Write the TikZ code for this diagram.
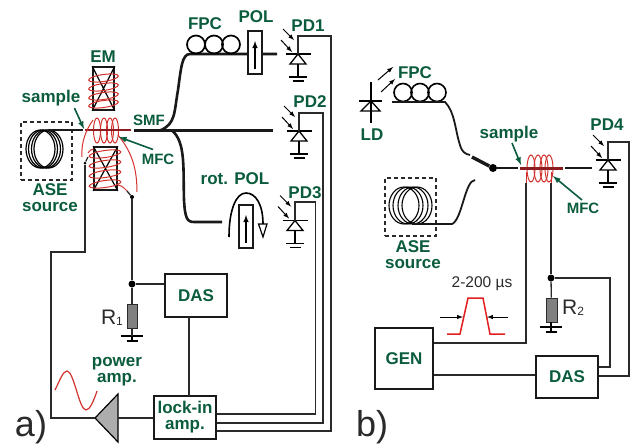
\documentclass[tikz,border=0pt]{standalone}
\usepackage{fontspec}
\setmainfont{Liberation Sans}
\usepackage{xcolor}
\usepackage{tikz}
\usetikzlibrary{positioning}

\definecolor{labgreen}{HTML}{0B5C3C}
\definecolor{coilred}{HTML}{D2322D}
\definecolor{pulsered}{HTML}{E41E20}
\definecolor{darksample}{HTML}{8C1C20}
\definecolor{inkgray}{HTML}{2A2A2A}

\tikzset{
  lab/.style={text=labgreen, inner sep=0pt, align=center, font=\bfseries\fontsize{17}{16}\selectfont},
  smalllab/.style={text=labgreen, inner sep=0pt, font=\bfseries\fontsize{15}{15}\selectfont},
  plain/.style={text=inkgray, inner sep=0pt, font=\fontsize{21}{21}\selectfont},
  partlab/.style={text=inkgray, inner sep=0pt, font=\fontsize{36}{36}\selectfont},
  wire/.style={draw=inkgray, line width=1.3pt},
  fibre/.style={draw=black!90, line width=2.6pt},
  thinfibre/.style={draw=black!90, line width=1.8pt},
  coil/.style={draw=coilred, line width=1pt},
  pointer/.style={draw=labgreen, line width=1.6pt, -latex},
  ray/.style={draw=black, line width=1pt, -latex},
  dot/.style={circle, fill=black, inner sep=0pt, minimum size=7pt},
  thickbox/.style={draw=black!90, line width=2.4pt, inner sep=0pt, fill=white, align=center},
  polbox/.style={draw=black!90, line width=1.4pt, fill=white, inner sep=0pt, minimum width=14pt, minimum height=43pt},
  resistor/.style={draw=inkgray, line width=0.8pt, fill=black!50, inner sep=0pt, minimum width=10pt, minimum height=24pt},
  dashbox/.style={draw=inkgray, line width=1.3pt, dash pattern=on 4pt off 3pt, inner sep=0pt},
  pd/.pic={
    \draw[line width=1.3pt] (-12.5,0) -- (12.5,0);
    \draw[line width=1.3pt] (0,0) -- (-8,10) -- (8,10) -- cycle;
    \draw[line width=1.3pt] (0,10) -- (0,23);
    \draw[line width=1.3pt] (-9,23) -- (9,23);
    \draw[line width=1.3pt] (-5.5,27) -- (5.5,27);
    \draw[ray] (-15,-25) -- (-4,-14);
    \draw[ray] (-17,-14) -- (-6,-2);
    \coordinate (-top) at (0,0);
  },
  gnd/.pic={
    \draw[line width=1.3pt] (-11,0) -- (11,0);
    \draw[line width=1.3pt] (-5.5,5) -- (5.5,5);
    \draw[line width=1.3pt] (0,-5) -- (0,5);
  },
}

\begin{document}
\begin{tikzpicture}[x=1pt,y=-1pt]
  \useasboundingbox (0,0) rectangle (639,445);

  % part a: fibre coil and source
  \node[dashbox, minimum width=51pt, minimum height=58pt] (asea) at (46.5,151) {};
  \foreach \x in {40.5,43,46,48.5}
    \draw[line width=1.2pt] (\x,149) ellipse (14.5 and 19);
  \coordinate (fibastart) at (48,130);
  \coordinate (fibaend) at (83,130);
  \draw[fibre, line width=1.8pt] (fibastart) -- (fibaend);
  \node[lab] (asealab) at (50,198) {ASE\\source};

  % part a: magnet
  \node[draw=black!90, line width=1.7pt, minimum width=21pt, minimum height=43pt, inner sep=0pt] (emtop) at (103.5,88.5) {};
  \draw[line width=1.2pt] (emtop.north west) -- (emtop.south east) (emtop.north east) -- (emtop.south west);
  \node[draw=black!90, line width=1.7pt, minimum width=23pt, minimum height=43pt, inner sep=0pt] (embot) at (105.5,168.5) {};
  \draw[line width=1.2pt] (embot.north west) -- (embot.south east) (embot.north east) -- (embot.south west);
  \foreach \y in {78,87,96,104}
    \draw[coil] (103.5,\y) ellipse [x radius=15, y radius=3.5, rotate=8];
  \foreach \y in {154,164,174,184}
    \draw[coil] (105,\y) ellipse [x radius=16, y radius=3.5, rotate=8];
  \node[lab] (em) at (103,57) {EM};

  % part a: sample in the modulation coil
  \coordinate (sama) at (85,130);
  \coordinate (samb) at (131,130);
  \foreach \x in {97,104,110,115}
    \draw[coil] (\x,130.5) ellipse (3.5 and 12.5);
  \draw[darksample, line width=2.6pt] (sama) -- (samb);
  \draw[coil] (93,120) .. controls (86,130) and (81,142) .. (82,157);
  \draw[coil] (118,135) .. controls (130,150) and (137,165) .. (137,192);
  \draw[coil] (88,153) .. controls (90,150) and (92,149) .. (94,149);
  \draw[coil] (118,185) .. controls (122,186) and (125,188) .. (127,191);
  \node[lab] (sampa) at (51,98) {sample};
  \coordinate (sampat) at (84,129);
  \draw[pointer] (sampa.south east) ++(-6,2) -- (sampat);
  \node[smalllab] (smf) at (149,120) {SMF};
  \node[smalllab] (mfca) at (158,159) {MFC};
  \coordinate (mfcat) at (119,137);
  \draw[pointer] (mfca.north) ++(-5,-4) -- (mfcat);

  % part a: three fibre arms
  \coordinate (splita) at (134,130.5);
  \coordinate (armtwo) at (273,130.5);
  \coordinate (armone) at (277,54);
  \coordinate (armthree) at (222,222);
  \draw[fibre] (splita) -- (armtwo);
  \draw[fibre] (160,130.5) .. controls (176,124) and (174,112) .. (178,90)
     .. controls (181,68) and (182,54) .. (190,54) -- (armone);
  \draw[fibre] (172,130.5) .. controls (186,142) and (183,170) .. (184,200)
     .. controls (185,218) and (187,222) .. (194,222) -- (armthree);
  \foreach \x in {196,214,231}
    \draw[line width=1.7pt] (\x,44.5) circle (9);
  \node[lab] (fpca) at (205,24) {FPC};
  \node[polbox] (pol) at (255,52.5) {};
  \draw[line width=1.4pt, -latex] (pol.south) ++(0,-6) -- (255,41);
  \node[lab] (pollab) at (256,17) {POL};
  \node[polbox] (rotpol) at (246,226.5) {};
  \draw[line width=1.4pt, -latex] (rotpol.south) ++(0,-6) -- (246,215);
  \draw[line width=1.6pt] (229,237) .. controls (229,210) and (236,193) .. (246,193)
     .. controls (256,193) and (263,205) .. (263,224);
  \draw[line width=1.2pt, fill=white] (258.5,224) -- (267,224) -- (263,237) -- cycle;
  \node[lab] (rotlab) at (235,179) {rot. POL};

  % part a: detectors
  \pic (pda) at (298,54) {pd};
  \pic (pdb) at (299,131) {pd};
  \pic (pdc) at (295,220.5) {pd};
  \node[lab] (pdalab) at (308,26) {PD1};
  \node[lab] (pdblab) at (310,102) {PD2};
  \node[lab] (pdclab) at (305,193) {PD3};

  % part a: electronics
  \node[thickbox, minimum width=62pt, minimum height=43pt, lab] (dasa) at (196,295.5) {DAS};
  \node[thickbox, minimum width=62pt, minimum height=43pt, lab] (lockin) at (185,417.5) {lock-in\\amp.};
  \coordinate (dasaout) at (189,317);
  \coordinate (lockintop) at (189,396);
  \draw[wire] (dasaout) -- (lockintop);

  \coordinate (ampin) at (118,418);
  \coordinate (amptip) at (95,418);
  \draw[line width=1.2pt, fill=black!32] (amptip) -- (118,394) -- (118,442) -- cycle;
  \draw[wire] (lockin.west |- ampin) -- (ampin);
  \node[lab] (powlab) at (117,372) {power\\amp.};
  \draw[coil, line width=1.2pt] (55,390) .. controls (60,380) and (63,371) .. (67,371)
     .. controls (74,371) and (79,410) .. (86,410) .. controls (90,410) and (94,400) .. (97,391);

  % part a: coil leads
  \node[dot, minimum size=3pt] (lefttap) at (85,163) {};
  \node[dot, minimum size=4pt] (righttap) at (132,197) {};
  \coordinate (stubl) at (88,157);
  \coordinate (stubr) at (127,191);
  \draw[wire] (lefttap) -- (stubl);
  \draw[wire] (righttap) -- (stubr);
  \coordinate (leftcorner) at (51,252);
  \draw[wire] (lefttap) |- (leftcorner) |- (amptip);
  \node[dot] (juncta) at (132,284) {};
  \draw[wire] (righttap) -- (juncta);
  \draw[wire] (juncta) -- (dasa.west |- juncta);
  \node[resistor] (ra) at (132,316) {};
  \draw[wire] (juncta) -- (ra);
  \pic (gnda) at (132,336) {gnd};
  \draw[wire] (ra.south) -- (132,336);
  \node[plain] (ralab) at (112,318) {R\raisebox{-1pt}{\fontsize{12}{12}\selectfont 1}};

  % part a: detector wires
  \coordinate (cornera) at (331,36);
  \coordinate (cornerb) at (323,113);
  \coordinate (cornerc) at (315.5,202);
  \draw[wire] (pda-top) |- (cornera) |- (lockin.east |- 0,431);
  \draw[wire] (pdb-top) |- (cornerb) |- (lockin.east |- 0,423);
  \draw[wire] (pdc-top) |- (cornerc) |- (lockin.east |- 0,414);

  \node[partlab] (parta) at (31,427) {a)};

  % part b: sources
  \draw[line width=1.3pt] (371,82) -- (371,123);
  \draw[line width=1.3pt] (359,101) -- (382,101);
  \draw[line width=1.3pt] (371,101) -- (361,111) -- (380,111) -- cycle;
  \coordinate (ldraya) at (378,80);
  \coordinate (ldrayb) at (381,92);
  \draw[ray] (ldraya) -- (393,67);
  \draw[ray] (ldrayb) -- (395,79);
  \node[lab] (ld) at (372,135) {LD};
  \foreach \x in {403,420,437}
    \draw[line width=1.6pt] (\x,92.5) circle (9);
  \node[lab] (fpcb) at (415,73) {FPC};

  \node[dashbox, minimum width=51pt, minimum height=58pt] (aseb) at (410.5,207) {};
  \foreach \x in {404,408,413,417}
    \draw[line width=1.1pt] (\x,205.5) ellipse (15 and 18.5);
  \node[lab] (aseblab) at (413,255) {ASE\\source};

  % part b: fibres and switch
  \coordinate (fpcin) at (392,102);
  \coordinate (swup) at (470,155);
  \coordinate (swdown) at (475,180);
  \node[dot, minimum size=8pt] (swit) at (493,168) {};
  \coordinate (samc) at (520,168);
  \coordinate (samd) at (563,168);
  \coordinate (fibbin) at (518,168);
  \coordinate (fibbout) at (565,168);
  \coordinate (fibbend) at (592,168);
  \draw[thinfibre] (fpcin) -- (445,102) .. controls (455,112) and (455,130) .. (460,145)
     .. controls (462,152) and (465,154) .. (swup);
  \draw[thinfibre] (412,224) -- (452,224) .. controls (462,220) and (465,180) .. (swdown);
  \draw[fibre, line width=3.4pt] (472,157) -- (swit);
  \draw[thinfibre] (swit) -- (fibbin);
  \draw[fibre] (fibbout) -- (fibbend);
  \foreach \x in {531,538,544,549}
    \draw[coil] (\x,168.5) ellipse (4 and 13.5);
  \draw[darksample, line width=3pt] (samc) -- (samd);
  \node[lab] (sampb) at (509,134) {sample};
  \coordinate (sampbt) at (521,165);
  \draw[pointer] (512,143) -- (sampbt);
  \node[smalllab] (mfcb) at (583,208) {MFC};
  \coordinate (mfcbt) at (553,176);
  \draw[pointer] (582,200) -- (mfcbt);

  % part b: detector
  \pic (pdd) at (608,160) {pd};
  \node[lab] (pddlab) at (607,125) {PD4};

  % part b: electronics
  \node[draw=black!90, line width=1.8pt, fill=white, minimum width=58pt, minimum height=61pt, lab] (gen) at (404,358.5) {GEN};
  \node[thickbox, minimum width=62pt, minimum height=42pt, lab] (dasb) at (567,377) {DAS};
  \coordinate (coilbl) at (526,183);
  \coordinate (coilbr) at (551,183);
  \draw[coil] (coilbl) -- (526,172);
  \draw[coil] (coilbr) -- (551,172);
  \coordinate (gencorner) at (526,343);
  \draw[wire] (coilbl) -- (gencorner) -- (gen.east |- gencorner);
  \draw[wire] (gen.east |- 0,375) -- (dasb.west |- 0,375);
  \node[dot] (junctb) at (551,278) {};
  \draw[wire] (coilbr) -- (junctb);
  \coordinate (dascorner) at (610,278);
  \draw[wire] (junctb) -- (dascorner) |- (dasb.east |- 0,367);
  \node[resistor, minimum width=11pt] (rb) at (551.5,310) {};
  \draw[wire] (junctb) -- (rb);
  \pic (gndb) at (551,327) {gnd};
  \node[plain] (rblab) at (573,308) {R\raisebox{-1pt}{\fontsize{12}{12}\selectfont 2}};
  \coordinate (pddcorner) at (629,142);
  \draw[wire] (pdd-top) |- (pddcorner) |- (dasb.east |- 0,376);

  % part b: pulse
  \node[text=inkgray, inner sep=0pt, font=\fontsize{15.5}{15.5}\selectfont] (pulselab) at (482,284) {2-200 µs};
  \draw[pulsered, line width=1.5pt] (447,334) -- (460,334) -- (468,298) -- (483,298) -- (490,334) -- (505,334);
  \coordinate (pulsel) at (463,317);
  \coordinate (pulser) at (487,317);
  \draw[ray] (440,317) -- (pulsel);
  \draw[ray] (508,317) -- (pulser);

  \node[partlab] (partb) at (372,427) {b)};
\end{tikzpicture}
\end{document}
